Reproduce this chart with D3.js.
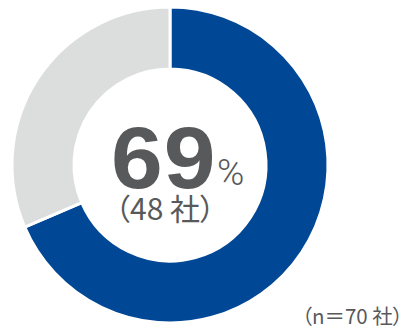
<!DOCTYPE html>
<html>
<head>
<meta charset="utf-8">
<script src="https://cdn.jsdelivr.net/npm/d3@7"></script>
<style>
  html, body { margin: 0; padding: 0; background: #fff; }
  svg { display: block; }
  .jp { font-family: 'Noto Sans CJK JP', sans-serif; font-feature-settings: "palt"; }
</style>
</head>
<body>
<svg id="chart" width="403" height="329"></svg>
<script>
// Survey result: companies answering "yes" out of all respondents
const categories = ["該当", "非該当"];
const counts = [48, 22];
const colors = ["#004795", "#dcdddd"];
const percentLabel = "69";
const countLabel = "（48 社）";
const sampleLabel = "（n＝70 社）";

const svg = d3.select("#chart");
const cx = 170, cy = 165, outerR = 158, innerR = 96;

const pie = d3.pie().sort(null).value(d => d.v);
const arc = d3.arc().innerRadius(innerR).outerRadius(outerR);
const data = categories.map((c, i) => ({ c, v: counts[i], color: colors[i] }));

const g = svg.append("g").attr("transform", `translate(${cx},${cy})`);
g.selectAll("path")
  .data(pie(data))
  .join("path")
  .attr("d", arc)
  .attr("fill", d => d.data.color)
  .attr("stroke", "#fff")
  .attr("stroke-width", 3);

const textColor = "#58595b";

// large percentage figure, slightly widened
g.append("g")
  .attr("transform", "translate(-59,23) scale(1.07,1)")
  .append("text")
  .attr("font-family", "'Liberation Sans', Arial, sans-serif")
  .attr("font-weight", "bold")
  .attr("font-size", 87)
  .attr("fill", textColor)
  .attr("letter-spacing", 1)
  .text(percentLabel);

g.append("text")
  .attr("x", 47).attr("y", 20)
  .attr("font-family", "Roboto, sans-serif")
  .attr("font-weight", 300)
  .attr("font-size", 37)
  .attr("fill", textColor)
  .text("%");

g.append("text")
  .attr("class", "jp")
  .attr("x", -5).attr("y", 55)
  .attr("text-anchor", "middle")
  .attr("font-size", 30)
  .attr("fill", textColor)
  .text(countLabel);

svg.append("text")
  .attr("class", "jp")
  .attr("x", 403).attr("y", 324)
  .attr("text-anchor", "end")
  .attr("font-size", 20.5)
  .attr("fill", textColor)
  .text(sampleLabel);
</script>
</body>
</html>
